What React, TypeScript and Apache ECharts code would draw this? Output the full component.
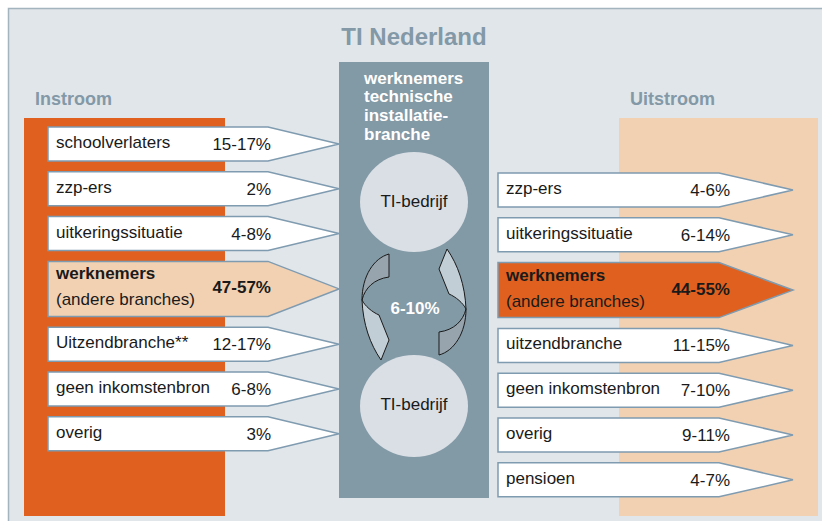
import React, { useEffect, useRef } from 'react';
import * as echarts from 'echarts';

// ---- data ----
const titleText = 'TI Nederland';
const inflowTitle = 'Instroom';
const outflowTitle = 'Uitstroom';
const centerTitleLines = ['werknemers', 'technische', 'installatie-', 'branche'];
const companyLabel = 'TI-bedrijf';
const internalMobility = '6-10%';

const inflowLabels = ['schoolverlaters', 'zzp-ers', 'uitkeringssituatie', 'werknemers', 'Uitzendbranche**', 'geen inkomstenbron', 'overig'];
const inflowValues = ['15-17%', '2%', '4-8%', '47-57%', '12-17%', '6-8%', '3%'];
const inflowHighlight = 3;

const outflowLabels = ['zzp-ers', 'uitkeringssituatie', 'werknemers', 'uitzendbranche', 'geen inkomstenbron', 'overig', 'pensioen'];
const outflowValues = ['4-6%', '6-14%', '44-55%', '11-15%', '7-10%', '9-11%', '4-7%'];
const outflowHighlight = 2;

const highlightSubLabel = '(andere branches)';

// ---- style ----
const FONT = '"Liberation Sans", Arial, Helvetica, sans-serif';
const C = {
  panel: '#e1e6ea',
  panelBorder: '#a3b4bf',
  title: '#8399a7',
  orange: '#e0611f',
  peach: '#f2d1b3',
  center: '#8299a6',
  circle: '#d9dfe5',
  arrowStroke: '#7f9bb0',
  text: '#1a1a1a',
  ccDark: '#97a4ad',
  ccLight: '#c2ced5',
};

const ROW_H = 34;
const ROW_H_HI = 55;
const PITCH = 44.8;

echarts.graphic.registerShape(
  'ccDark',
  echarts.graphic.extendPath('M27 0 L27 23 C12 25 3 34 0 46 C0 22 12 4 27 0 Z', {})
);
echarts.graphic.registerShape(
  'ccLight',
  echarts.graphic.extendPath('M0 46 C1 70 8 90 19 106 L27 86 L17 61 C10 58 3 52 0 46 Z', {})
);

function txt(x: number, y: number, text: string, o: any = {}) {
  const size = o.size ?? 17;
  const weight = o.weight ?? 'normal';
  const align = o.align ?? 'left';
  const v = o.v ?? 'middle';
  return {
    type: 'text',
    x,
    y,
    silent: true,
    z: 10,
    style: {
      text,
      fill: o.color ?? C.text,
      font: `${weight} ${size}px ${FONT}`,
      align,
      verticalAlign: v,
      textAlign: align,
      textVerticalAlign: v,
    },
  };
}

function rowTops(n: number, start: number, hi: number) {
  const out: number[] = [];
  for (let i = 0; i < n; i++) out.push(start + i * PITCH + (i > hi ? ROW_H_HI - ROW_H : 0));
  return out;
}

function buildRows(
  labels: string[],
  values: string[],
  hi: number,
  start: number,
  x0: number,
  xBody: number,
  xTip: number,
  labelX: number,
  valueX: number,
  hiFill: string
) {
  const tops = rowTops(labels.length, start, hi);
  const els: any[] = [];
  labels.forEach((lab, i) => {
    const t = tops[i];
    const h = i === hi ? ROW_H_HI : ROW_H;
    els.push({
      type: 'polygon',
      z: 5,
      shape: {
        points: [
          [x0, t],
          [xBody, t],
          [xTip, t + h / 2],
          [xBody, t + h],
          [x0, t + h],
        ],
      },
      style: { fill: i === hi ? hiFill : '#ffffff', stroke: C.arrowStroke, lineWidth: 1.5 },
    });
    if (i === hi) {
      els.push(txt(labelX, t + 12.5, lab, { weight: 'bold' }));
      els.push(txt(labelX, t + 38.5, highlightSubLabel));
      els.push(txt(valueX, t + 26.5, values[i], { weight: 'bold', align: 'right' }));
    } else {
      els.push(txt(labelX, t + h / 2 - 1.5, lab));
      els.push(txt(valueX, t + h / 2 + 0.5, values[i], { align: 'right' }));
    }
  });
  return els;
}

function cycleArrow(rotation: number) {
  return {
    type: 'group',
    x: 414,
    y: 304.5,
    rotation,
    z: 8,
    children: [
      { type: 'ccDark', z: 8, x: -52, y: -50.5, style: { fill: C.ccDark, stroke: '#1a1a1a', lineWidth: 1 } },
      { type: 'ccLight', z: 8, x: -52, y: -50.5, style: { fill: C.ccLight, stroke: '#1a1a1a', lineWidth: 1 } },
    ],
  };
}

export default function App() {
  const ref = useRef<HTMLDivElement>(null);
  useEffect(() => {
    document.body.style.margin = '0';
    const chart = echarts.init(ref.current!, undefined, { renderer: 'svg' });
    const elements: any[] = [
      { type: 'rect', z: 0, shape: { x: 0, y: 0, width: 822, height: 521 }, style: { fill: '#ffffff' } },
      { type: 'rect', z: 1, shape: { x: 8.5, y: 8.5, width: 830, height: 530 }, style: { fill: C.panel, stroke: C.panelBorder, lineWidth: 1.5 } },
      { type: 'rect', z: 2, shape: { x: 24, y: 118, width: 201, height: 398 }, style: { fill: C.orange } },
      { type: 'rect', z: 2, shape: { x: 619, y: 118, width: 199, height: 398 }, style: { fill: C.peach } },
      { type: 'rect', z: 3, shape: { x: 339, y: 62, width: 150, height: 436 }, style: { fill: C.center } },
      { type: 'ellipse', z: 4, shape: { cx: 414, cy: 202, rx: 54, ry: 50 }, style: { fill: C.circle } },
      { type: 'ellipse', z: 4, shape: { cx: 414, cy: 406, rx: 54, ry: 51 }, style: { fill: C.circle } },
      txt(414, 36.5, titleText, { size: 24, weight: 'bold', color: C.title, align: 'center' }),
      txt(35, 98.7, inflowTitle, { size: 18, weight: 'bold', color: C.title }),
      txt(630, 98.7, outflowTitle, { size: 18, weight: 'bold', color: C.title }),
      ...centerTitleLines.map((l, i) => txt(364, 78 + i * 18.8, l, { weight: 'bold', color: '#ffffff' })),
      txt(414, 201, companyLabel, { align: 'center' }),
      txt(414, 404, companyLabel, { align: 'center' }),
      txt(415, 308, internalMobility, { weight: 'bold', color: '#ffffff', align: 'center' }),
      cycleArrow(0),
      cycleArrow(Math.PI),
      ...buildRows(inflowLabels, inflowValues, inflowHighlight, 127, 48, 268, 339, 56, 271, C.peach),
      ...buildRows(outflowLabels, outflowValues, outflowHighlight, 173, 498, 719, 793, 506, 730, C.orange),
    ];
    chart.setOption({ animation: false, graphic: { elements } });
    return () => chart.dispose();
  }, []);
  return <div ref={ref} style={{ width: 822, height: 521 }} />;
}
